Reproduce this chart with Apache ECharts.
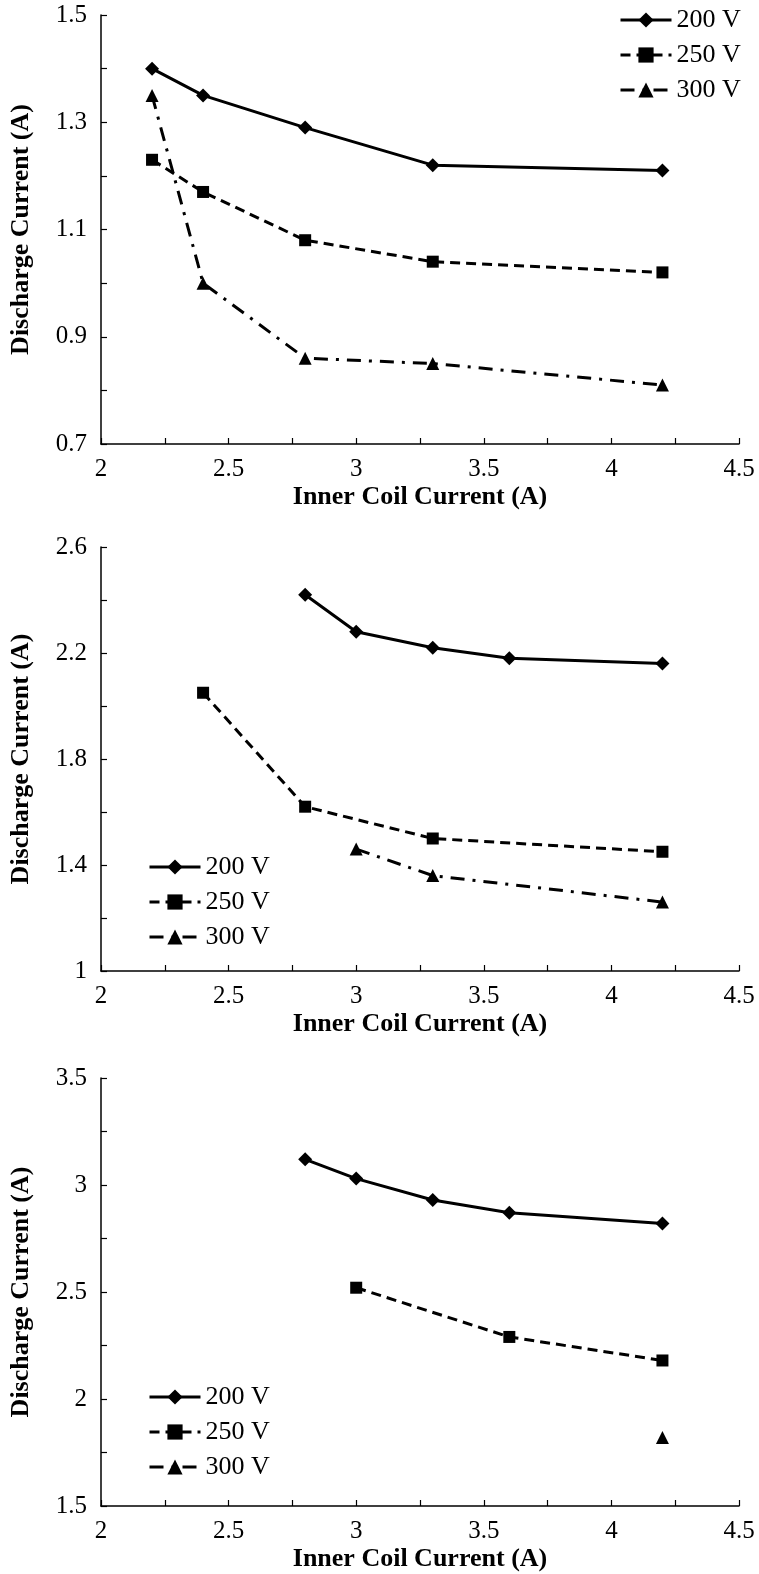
<!DOCTYPE html>
<html>
<head>
<meta charset="utf-8">
<script src="https://cdn.jsdelivr.net/npm/echarts@6/dist/echarts.min.js"></script>
<style>
html,body{margin:0;padding:0;background:#fff;}
#chart{width:759px;height:1574px;}
</style>
</head>
<body>
<div id="chart"></div>
<script>
// ---- Data ----
const seriesNames = ['200 V', '250 V', '300 V'];
const xAxisTitle = 'Inner Coil Current (A)';
const yAxisTitle = 'Discharge Current (A)';

// Panel 1
const p1x200 = [2.2, 2.4, 2.8, 3.3, 4.2];
const p1y200 = [1.40, 1.35, 1.29, 1.22, 1.21];
const p1x250 = [2.2, 2.4, 2.8, 3.3, 4.2];
const p1y250 = [1.23, 1.17, 1.08, 1.04, 1.02];
const p1x300 = [2.2, 2.4, 2.8, 3.3, 4.2];
const p1y300 = [1.35, 1.00, 0.86, 0.85, 0.81];

// Panel 2
const p2x200 = [2.8, 3.0, 3.3, 3.6, 4.2];
const p2y200 = [2.42, 2.28, 2.22, 2.18, 2.16];
const p2x250 = [2.4, 2.8, 3.3, 4.2];
const p2y250 = [2.05, 1.62, 1.50, 1.45];
const p2x300 = [3.0, 3.3, 4.2];
const p2y300 = [1.46, 1.36, 1.26];

// Panel 3
const p3x200 = [2.8, 3.0, 3.3, 3.6, 4.2];
const p3y200 = [3.12, 3.03, 2.93, 2.87, 2.82];
const p3x250 = [3.0, 3.6, 4.2];
const p3y250 = [2.52, 2.29, 2.18];
const p3x300 = [4.2];
const p3y300 = [1.82];

// Axis ranges
const xMin = 2, xMax = 4.5, xStep = 0.5;
const y1Min = 0.7, y1Max = 1.5, y1Step = 0.1;   // labels every 0.2
const y2Min = 1.0, y2Max = 2.6, y2Step = 0.2;   // labels every 0.4
const y3Min = 1.5, y3Max = 3.5, y3Step = 0.5;

// ---- Helpers ----
const pairs = (xs, ys) => xs.map((x, i) => [x, ys[i]]);
const FONT = '"Liberation Serif", "Times New Roman", serif';
const BLACK = '#000';

const styles = [
  { symbol: 'diamond', symbolSize: 14, type: 'solid' },
  { symbol: 'rect', symbolSize: 12, type: [10, 6] },
  { symbol: 'triangle', symbolSize: 13, type: [14, 8, 3, 8] }
];

const grids = [
  { left: 101, width: 638, top: 15, height: 429 },
  { left: 101, width: 638, top: 547, height: 424 },
  { left: 101, width: 638, top: 1078, height: 428 }
];

function xAxisFor(gi) {
  return {
    type: 'value', gridIndex: gi, min: xMin, max: xMax, interval: xStep,
    name: xAxisTitle, nameLocation: 'middle', nameGap: 40,
    nameTextStyle: { fontFamily: FONT, fontWeight: 'bold', fontSize: 26, color: BLACK },
    axisLine: { show: true, onZero: false, lineStyle: { color: BLACK, width: 1.5 } },
    axisTick: { show: true, inside: true, length: 6, lineStyle: { color: BLACK, width: 1.2 } },
    minorTick: { show: true, splitNumber: 2, length: 6, lineStyle: { color: BLACK, width: 1.2 } },
    splitLine: { show: false },
    axisLabel: { fontFamily: FONT, fontSize: 25, color: BLACK, margin: 13,
      formatter: v => String(+v.toFixed(2)) }
  };
}

function yAxisFor(gi, min, max, step, labelFn, minorSplit) {
  return {
    type: 'value', gridIndex: gi, min: min, max: max, interval: step,
    name: yAxisTitle, nameLocation: 'middle', nameGap: 67, nameRotate: 90,
    nameTextStyle: { fontFamily: FONT, fontWeight: 'bold', fontSize: 26, color: BLACK },
    axisLine: { show: true, onZero: false, lineStyle: { color: BLACK, width: 1.5 } },
    axisTick: { show: true, inside: true, length: 6, lineStyle: { color: BLACK, width: 1.2 } },
    minorTick: { show: minorSplit > 0, splitNumber: minorSplit || 2, length: 6, lineStyle: { color: BLACK, width: 1.2 } },
    splitLine: { show: false },
    axisLabel: { fontFamily: FONT, fontSize: 25, color: BLACK, margin: 14, formatter: labelFn }
  };
}

const lbl1 = v => (Math.round(v * 10) % 2 === 1 ? v.toFixed(1) : '');
const lbl2 = v => (Math.round(v * 10) % 4 === 2 ? String(+v.toFixed(1)) : '');
const lbl3 = v => String(+v.toFixed(2));

const panelData = [
  [pairs(p1x200, p1y200), pairs(p1x250, p1y250), pairs(p1x300, p1y300)],
  [pairs(p2x200, p2y200), pairs(p2x250, p2y250), pairs(p2x300, p2y300)],
  [pairs(p3x200, p3y200), pairs(p3x250, p3y250), pairs(p3x300, p3y300)]
];

const series = [];
panelData.forEach((panel, gi) => {
  panel.forEach((data, si) => {
    const st = styles[si];
    series.push({
      type: 'line', name: seriesNames[si], xAxisIndex: gi, yAxisIndex: gi,
      data: data, symbol: st.symbol, symbolSize: st.symbolSize, showSymbol: true,
      itemStyle: { color: BLACK },
      lineStyle: { color: BLACK, width: 3, type: st.type },
      emphasis: { disabled: true }, animation: false
    });
  });
});

function legendAt(left, top) {
  return {
    orient: 'vertical', left: left, top: top, itemWidth: 51, itemHeight: 19, itemGap: 9,
    data: seriesNames, selectedMode: false,
    lineStyle: { width: 3 },
    textStyle: { fontFamily: FONT, fontSize: 26, color: BLACK }
  };
}

const chart = echarts.init(document.getElementById('chart'), null, { renderer: 'canvas' });
chart.setOption({
  backgroundColor: '#fff',
  animation: false,
  grid: grids,
  xAxis: [xAxisFor(0), xAxisFor(1), xAxisFor(2)],
  yAxis: [
    yAxisFor(0, y1Min, y1Max, y1Step, lbl1, 0),
    yAxisFor(1, y2Min, y2Max, y2Step, lbl2, 0),
    yAxisFor(2, y3Min, y3Max, y3Step, lbl3, 2)
  ],
  legend: [legendAt(614, 2), legendAt(143, 849), legendAt(143, 1379)],
  series: series
});
</script>
</body>
</html>
